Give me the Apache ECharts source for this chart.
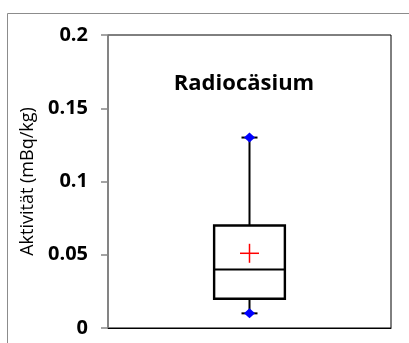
<!DOCTYPE html>
<html>
<head>
<meta charset="utf-8">
<script src="https://cdn.jsdelivr.net/npm/echarts@6/dist/echarts.min.js"></script>
<style>
html,body{margin:0;padding:0;background:#fff;}
#chart{width:409px;height:343px;}
</style>
</head>
<body>
<div id="chart"></div>
<script>
const categories = ['Radiocäsium'];
const minVals = [0.01];
const q1Vals = [0.02];
const medianVals = [0.04];
const q3Vals = [0.07];
const maxVals = [0.13];
const meanVals = [0.051];
const yTicks = [0, 0.05, 0.1, 0.15, 0.2];
const chartTitle = 'Radiocäsium';
const yName = 'Aktivität (mBq/kg)';

const seriesData = categories.map((c, i) => [i, minVals[i], q1Vals[i], medianVals[i], q3Vals[i], maxVals[i], meanVals[i]]);

function renderItem(params, api) {
  const x = api.value(0);
  const pMin = api.coord([x, api.value(1)]);
  const pQ1 = api.coord([x, api.value(2)]);
  const pMed = api.coord([x, api.value(3)]);
  const pQ3 = api.coord([x, api.value(4)]);
  const pMax = api.coord([x, api.value(5)]);
  const pMean = api.coord([x, api.value(6)]);
  const cx = pMin[0];
  const bw = api.size([1, 0])[0] * 0.25;
  const hw = bw / 2;
  const capW = 8;
  const dW = 5.5, dH = 5;
  const pl = 9.5;
  const black = {stroke: '#000', lineWidth: 2, fill: 'none'};
  function diamond(p) {
    return {type: 'polygon', shape: {points: [[p[0] - dW, p[1]], [p[0], p[1] - dH], [p[0] + dW, p[1]], [p[0], p[1] + dH]]}, style: {fill: '#0000ff'}};
  }
  return {
    type: 'group',
    children: [
      {type: 'line', shape: {x1: cx, y1: pMax[1], x2: cx, y2: pQ3[1]}, style: black},
      {type: 'line', shape: {x1: cx, y1: pQ1[1], x2: cx, y2: pMin[1]}, style: black},
      {type: 'line', shape: {x1: cx - capW, y1: pMax[1], x2: cx + capW, y2: pMax[1]}, style: black},
      {type: 'line', shape: {x1: cx - capW, y1: pMin[1], x2: cx + capW, y2: pMin[1]}, style: black},
      {type: 'rect', shape: {x: cx - hw, y: pQ3[1], width: bw, height: pQ1[1] - pQ3[1]}, style: {stroke: '#000', lineWidth: 2.4, fill: '#fff'}},
      {type: 'line', shape: {x1: cx - hw, y1: pMed[1], x2: cx + hw, y2: pMed[1]}, style: black},
      diamond(pMax),
      diamond(pMin),
      {type: 'line', shape: {x1: pMean[0] - pl, y1: pMean[1], x2: pMean[0] + pl, y2: pMean[1]}, style: {stroke: '#ff0000', lineWidth: 1.5}},
      {type: 'line', shape: {x1: pMean[0], y1: pMean[1] - pl, x2: pMean[0], y2: pMean[1] + pl}, style: {stroke: '#ff0000', lineWidth: 1.5}}
    ]
  };
}

const chart = echarts.init(document.getElementById('chart'), null, {renderer: 'canvas'});
chart.setOption({
  animation: false,
  backgroundColor: '#fff',
  textStyle: {fontFamily: 'Open Sans'},
  graphic: [{
    type: 'rect',
    shape: {x: 7.5, y: 13.5, width: 600, height: 600},
    style: {fill: 'none', stroke: '#8c8c8c', lineWidth: 1},
    z: -10
  }],
  title: {
    text: chartTitle,
    left: 239,
    top: 68,
    textAlign: 'center',
    textStyle: {fontFamily: 'Open Sans', fontWeight: 'bold', fontSize: 22, color: '#000'}
  },
  grid: {left: 108, right: 18, top: 35, bottom: 15, show: true, borderColor: '#000', borderWidth: 1, backgroundColor: 'transparent'},
  xAxis: {
    type: 'category',
    data: categories,
    axisLine: {show: true, lineStyle: {color: '#000', width: 1}},
    axisTick: {show: false},
    axisLabel: {show: false},
    splitLine: {show: false}
  },
  yAxis: {
    type: 'value',
    min: yTicks[0],
    max: yTicks[yTicks.length - 1],
    interval: yTicks[1] - yTicks[0],
    name: yName,
    nameLocation: 'middle',
    nameGap: 66,
    nameTextStyle: {fontFamily: 'Open Sans', fontSize: 18, color: '#000'},
    axisLine: {show: true, lineStyle: {color: '#868686', width: 1.5}},
    axisTick: {show: true, inside: false, length: 7, lineStyle: {color: '#868686', width: 1.5}},
    axisLabel: {margin: 20, fontFamily: 'Open Sans', fontWeight: 'bold', fontSize: 20, color: '#000'},
    splitLine: {show: false}
  },
  series: [{
    type: 'custom',
    renderItem: renderItem,
    encode: {x: 0, y: [1, 2, 3, 4, 5, 6]},
    data: seriesData,
    z: 5
  }]
});
</script>
</body>
</html>
